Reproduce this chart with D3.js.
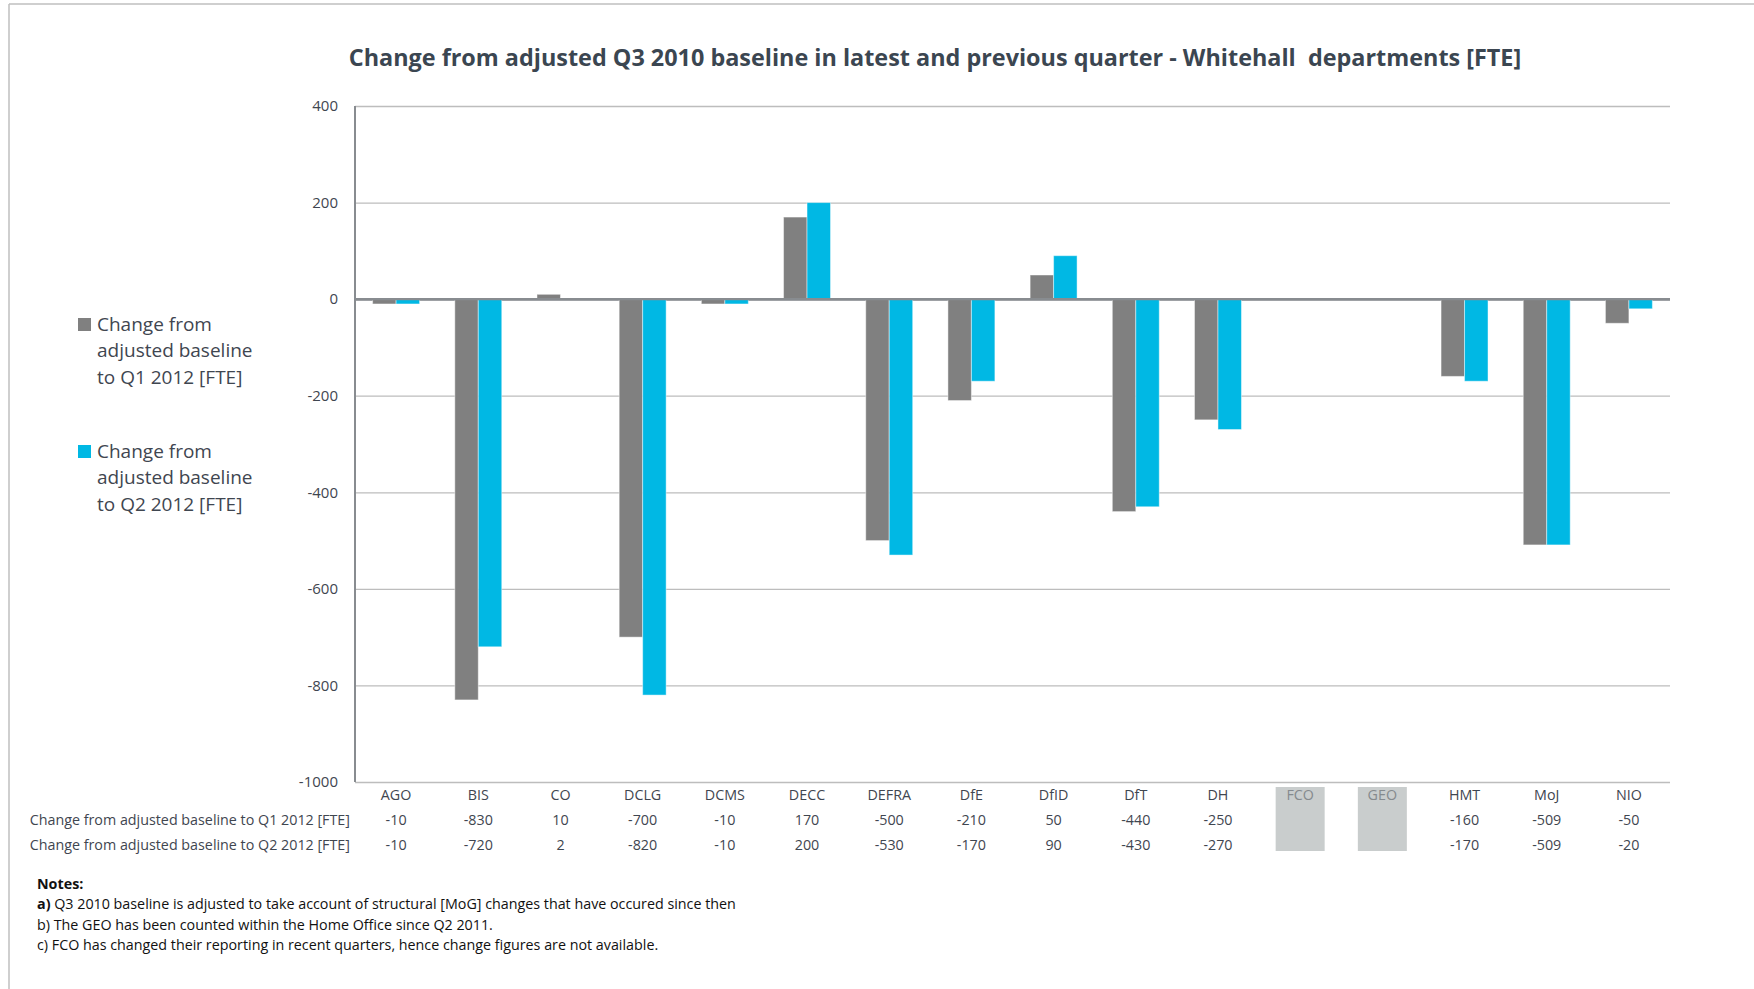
<!DOCTYPE html>
<html>
<head>
<meta charset="utf-8">
<script src="https://cdn.jsdelivr.net/npm/d3@7/dist/d3.min.js"></script>
<style>
  body { margin: 0; background: #fff; }
  svg { display: block; font-family: "Open Sans", sans-serif; }
</style>
</head>
<body>
<svg id="chart" width="1754" height="989"></svg>
<script>
// data
const departments = ["AGO", "BIS", "CO", "DCLG", "DCMS", "DECC", "DEFRA", "DfE", "DfID", "DfT", "DH", "FCO", "GEO", "HMT", "MoJ", "NIO"];
const q1Values = [-10, -830, 10, -700, -10, 170, -500, -210, 50, -440, -250, null, null, -160, -509, -50];
const q2Values = [-10, -720, 2, -820, -10, 200, -530, -170, 90, -430, -270, null, null, -170, -509, -20];
const seriesNames = ["Change from adjusted baseline to Q1 2012 [FTE]", "Change from adjusted baseline to Q2 2012 [FTE]"];
const seriesColors = ["#808080", "#00B8E4"];
const yTicks = [400, 200, 0, -200, -400, -600, -800, -1000];
const title = "Change from adjusted Q3 2010 baseline in latest and previous quarter - Whitehall  departments [FTE]";
const notes = [
  ["a)", " Q3 2010 baseline is adjusted to take account of structural [MoG] changes that have occured since then"],
  ["", "b) The GEO has been counted within the Home Office since Q2 2011."],
  ["", "c) FCO has changed their reporting in recent quarters, hence change figures are not available."]
];

const textColor = "#3F4650";
const svg = d3.select("#chart");

// page frame
svg.append("line").attr("x1", 9).attr("x2", 1754).attr("y1", 4).attr("y2", 4)
  .attr("stroke", "#BFBFBF").attr("stroke-width", 1.5);
svg.append("line").attr("x1", 9).attr("x2", 9).attr("y1", 4).attr("y2", 989)
  .attr("stroke", "#BFBFBF").attr("stroke-width", 1.5);

const plot = { left: 355, right: 1670, top: 106, bottom: 782 };

const x0 = d3.scaleBand().domain(departments)
  .range([plot.left, plot.right]).paddingInner(0.4286).paddingOuter(0.2143);
const x1 = d3.scaleBand().domain([0, 1]).range([0, x0.bandwidth()]);
const y = d3.scaleLinear().domain([-1000, 400]).range([plot.bottom, plot.top]);

// title
svg.append("text")
  .attr("x", 935).attr("y", 66)
  .attr("text-anchor", "middle")
  .attr("font-size", 23.4).attr("font-weight", 700)
  .attr("fill", "#3B4651")
  .style("white-space", "pre")
  .text(title);

// gridlines + y labels
const yAxis = svg.append("g")
  .attr("transform", `translate(${plot.left},0)`)
  .call(d3.axisLeft(y).tickValues(yTicks).tickSize(-(plot.right - plot.left)).tickPadding(17).tickFormat(d => String(d)));
yAxis.select(".domain").remove();
yAxis.selectAll(".tick line")
  .attr("stroke", d => d === 0 ? "#888C90" : "#BDBDBD")
  .attr("stroke-width", d => d === 0 ? 2.2 : 1.3);
yAxis.selectAll(".tick text")
  .attr("font-size", 15).attr("fill", textColor)
  .attr("font-family", "'Open Sans', sans-serif");

// left axis line
svg.append("line")
  .attr("x1", plot.left).attr("x2", plot.left)
  .attr("y1", plot.top).attr("y2", plot.bottom)
  .attr("stroke", "#888C90").attr("stroke-width", 2);

// bars
const series = [q1Values, q2Values];
series.forEach((vals, si) => {
  svg.append("g").selectAll("rect")
    .data(departments.map((d, i) => ({ dept: d, v: vals[i] })).filter(d => d.v !== null))
    .join("rect")
    .attr("x", d => x0(d.dept) + x1(si))
    .attr("width", x1.bandwidth())
    .attr("y", d => y(Math.max(0, d.v)))
    .attr("height", d => Math.abs(y(d.v) - y(0)))
    .attr("fill", seriesColors[si])
    .attr("stroke", "rgba(255,255,255,0.45)")
    .attr("stroke-width", 1);
});
// redraw zero line on top of bars
svg.append("line")
  .attr("x1", plot.left).attr("x2", plot.right)
  .attr("y1", y(0)).attr("y2", y(0))
  .attr("stroke", "#888C90").attr("stroke-width", 2.2);

// data table
const cx = d => x0(d) + x0.bandwidth() / 2;
const missing = departments.filter((d, i) => q1Values[i] === null && q2Values[i] === null);

svg.append("g").selectAll("rect")
  .data(missing)
  .join("rect")
  .attr("x", d => cx(d) - 24.5).attr("y", 787)
  .attr("width", 49).attr("height", 64)
  .attr("fill", "#C9CDCD");

svg.append("g").selectAll("text")
  .data(departments)
  .join("text")
  .attr("x", cx).attr("y", 800)
  .attr("text-anchor", "middle")
  .attr("font-size", 14.3)
  .attr("fill", d => missing.includes(d) ? "#858A8E" : textColor)
  .text(d => d);

const rowY = [825, 850];
series.forEach((vals, si) => {
  svg.append("text")
    .attr("x", 350).attr("y", rowY[si])
    .attr("text-anchor", "end")
    .attr("font-size", 14.3).attr("fill", textColor)
    .text(seriesNames[si]);
  svg.append("g").selectAll("text")
    .data(departments.map((d, i) => ({ dept: d, v: vals[i] })).filter(d => d.v !== null))
    .join("text")
    .attr("x", d => cx(d.dept)).attr("y", rowY[si])
    .attr("text-anchor", "middle")
    .attr("font-size", 14.3).attr("fill", textColor)
    .text(d => d.v);
});

// legend (wrapped text)
function wrapLines(str, size, maxWidth) {
  const probe = svg.append("text").attr("font-size", size);
  const words = str.split(" ");
  const lines = [];
  let cur = "";
  words.forEach(w => {
    const test = cur ? cur + " " + w : w;
    probe.text(test);
    if (probe.node().getComputedTextLength() > maxWidth && cur) {
      lines.push(cur);
      cur = w;
    } else cur = test;
  });
  lines.push(cur);
  probe.remove();
  return lines;
}

const legendTop = [324, 451];
seriesNames.forEach((name, si) => {
  const g = svg.append("g");
  g.append("rect")
    .attr("x", 78).attr("y", legendTop[si] - 6)
    .attr("width", 13).attr("height", 13)
    .attr("fill", seriesColors[si]);
  const lines = wrapLines(name, 19, 170);
  g.selectAll("text")
    .data(lines)
    .join("text")
    .attr("x", 97)
    .attr("y", (d, i) => legendTop[si] + 6.5 + i * 26.5)
    .attr("font-size", 19).attr("fill", textColor)
    .text(d => d);
});

// notes
svg.append("text")
  .attr("x", 37).attr("y", 889)
  .attr("font-size", 14.3).attr("font-weight", 700).attr("fill", "#111")
  .text("Notes:");
notes.forEach((n, i) => {
  const t = svg.append("text")
    .attr("x", 37).attr("y", 909 + i * 20.5)
    .attr("font-size", 14.3).attr("fill", "#111")
    .style("white-space", "pre");
  if (n[0]) t.append("tspan").attr("font-weight", 700).text(n[0]);
  t.append("tspan").text(n[1]);
});
</script>
</body>
</html>
